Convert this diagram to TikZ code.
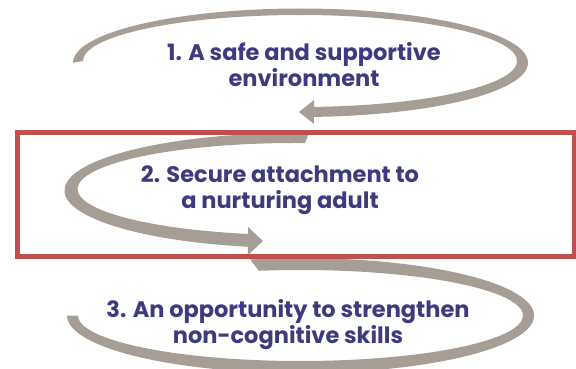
\documentclass[tikz,border=0pt]{standalone}
\usepackage{fontspec}
\setmainfont{Poppins}
\usepackage{tikz}
\definecolor{arrowgray}{HTML}{A69D95}
\definecolor{boxred}{HTML}{C0504D}
\definecolor{labelblue}{HTML}{3D3A7D}
\tikzstyle{loop} = [fill=arrowgray, draw=none]
\tikzstyle{frame} = [draw=boxred, line width=5pt]
\tikzstyle{steptext} = [align=center, font=\bfseries\fontsize{22.5}{26}\selectfont, text=labelblue, inner sep=0pt, anchor=base]

\begin{document}
\begin{tikzpicture}[x=1pt, y=-1pt]
		\useasboundingbox (0,0) rectangle (576,369);
		\clip (0,0) rectangle (576,369);
		\fill [loop] (73,62.75) arc[start angle=180, end angle=446.6, x radius=227.5, y radius=54.25] -- (314,124) -- (299,112) -- (314,100) -- (314,106.9) arc[start angle=446.3, end angle=180, x radius=217, y radius=46] -- cycle;
		\fill [loop] (308.9,133.1) arc[start angle=273.2, end angle=101.97, x radius=231.5, y radius=57.5] -- (248,255) -- (263,241) -- (248,227) -- (248,233.9) arc[start angle=102.5, end angle=272.6, x radius=217.5, y radius=46] -- cycle;
		\fill [loop] (250,259.4) arc[start angle=257.5, end angle=540, x radius=233.5, y radius=57.5] -- (78,315.5) arc[start angle=540, end angle=259.25, x radius=222.5, y radius=45.5] -- cycle;
		\draw [frame] (17,132.5) rectangle (574,256);
		\node (Safe) [steptext] at (304,87) {1. A safe and supportive\\environment};
		\node (Secure) [steptext] at (280,208) {2. Secure attachment to\\a nurturing adult};
		\node (Skills) [steptext] at (288,343) {3. An opportunity to strengthen\\non-cognitive skills};
\end{tikzpicture}
\end{document}
